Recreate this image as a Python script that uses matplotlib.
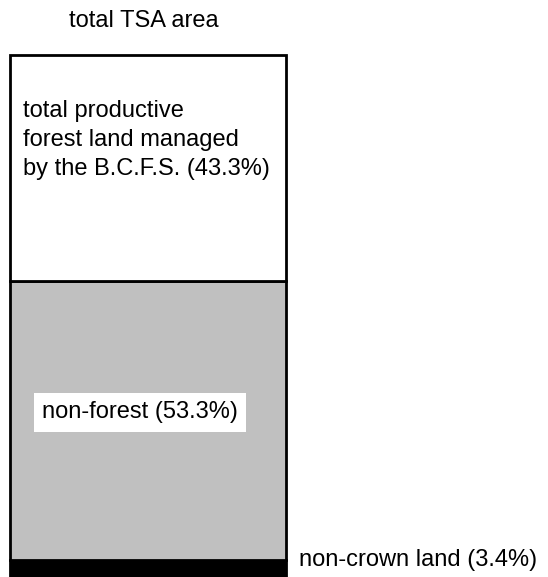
import matplotlib
matplotlib.use('Agg')
import matplotlib.pyplot as plt

# segment data, bottom to top
segments = ['non-crown land', 'non-forest', 'total productive forest land managed by the B.C.F.S.']
shares = [3.4, 53.3, 43.3]
colours = ['#000000', '#c0c0c0', '#ffffff']
bar_title = 'total TSA area'

plt.rcParams['font.family'] = ['Liberation Sans', 'DejaVu Sans']

fig = plt.figure(figsize=(5.48, 5.77), dpi=100)
# bar spans x 10..286 px, y 55..578 px (bottom clipped by figure edge)
ax = fig.add_axes([10 / 548, (577 - 578) / 577, 276 / 548, 523 / 577])

bottom = 0
for val, col in zip(shares, colours):
    ax.bar(0.5, val, width=1.0, bottom=bottom, color=col,
           edgecolor='black', linewidth=2, clip_on=False)
    bottom += val

ax.set_xlim(0, 1)
ax.set_ylim(0, 100)
ax.axis('off')

fs = 17
ax.text(0.486, 105.4, bar_title, ha='center', va='baseline', fontsize=fs, clip_on=False)

ax.text(0.047, 91.4, 'total productive\nforest land managed\nby the B.C.F.S. (%.1f%%)' % shares[2],
        ha='left', va='top', fontsize=fs, linespacing=1.42)

ax.text(0.116, 30.5, 'non-forest (%.1f%%)' % shares[1], ha='left', va='baseline', fontsize=fs,
        bbox=dict(facecolor='white', edgecolor='none', pad=6))

ax.text(1.047, 2.3, 'non-crown land (%.1f%%)' % shares[0], ha='left', va='baseline',
        fontsize=fs, clip_on=False)

fig.savefig('out.png', dpi=100)
